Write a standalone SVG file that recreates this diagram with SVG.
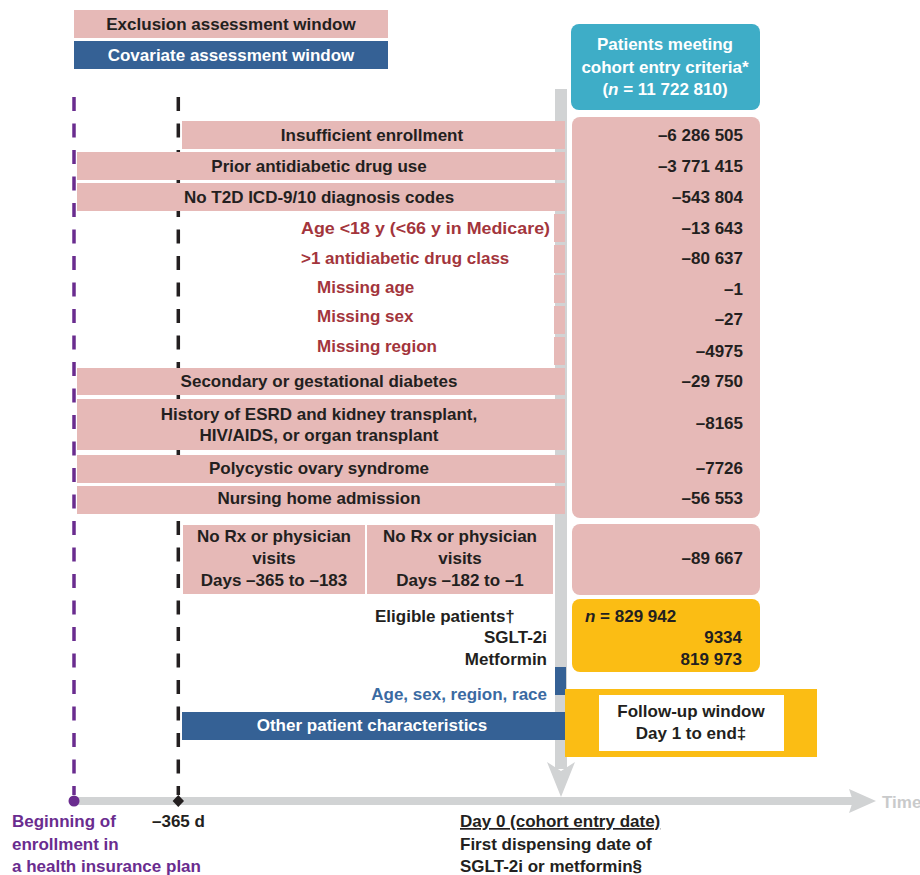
<svg xmlns="http://www.w3.org/2000/svg" width="920" height="875" viewBox="0 0 920 875">
<style>
text{font-family:"Liberation Sans",Arial,sans-serif;font-weight:bold;font-size:17px;fill:#231f20}
.c{text-anchor:middle}
.r{text-anchor:end}
.red{fill:#a3353c}
.w{fill:#ffffff}
.pur{fill:#6a2c8f}
.blt{fill:#3a6aa2}
.pink{fill:#e6b9b7}
.blue{fill:#356195}
.yel{fill:#fbbd14}
.gray{fill:#d1d3d4}
</style>
<rect width="920" height="875" fill="#ffffff"/>
<!-- legend -->
<g id="legend-exclusion"><rect class="pink" x="74" y="10" width="314" height="28"/><text class="c" x="231" y="30">Exclusion assessment window</text></g>
<g id="legend-covariate"><rect class="blue" x="74" y="41" width="314" height="28"/><text class="c w" x="231" y="61">Covariate assessment window</text></g>

<!-- connectors / timeline -->
<g id="connectors">
<rect class="gray" x="555" y="89" width="12" height="680"/>
<polygon class="gray" points="547,762 561,771 575,762 561,797"/>
<rect class="gray" x="74" y="797" width="780" height="8"/>
<polygon class="gray" points="849,789 876,801 849,813 853,801"/>
<line x1="74" y1="97" x2="74" y2="795" stroke="#6a2c8f" stroke-width="3.5" stroke-dasharray="14 12.5"/>
<line x1="178.3" y1="97" x2="178.3" y2="795" stroke="#231f20" stroke-width="3.5" stroke-dasharray="14 12.5"/>
<circle cx="74" cy="801" r="5.5" fill="#6a2c8f"/>
<polygon points="178.3,795 184,801 178.3,807 172.6,801" fill="#231f20"/>
<text x="882" y="808" style="fill:#c9cacb">Time</text>
</g>

<!-- cohort entry -->
<g id="cohort-entry"><rect x="571" y="24" width="189" height="86" rx="8" fill="#3eadc7"/>
<text class="c w" x="665" y="50">Patients meeting</text>
<text class="c w" x="665" y="73">cohort entry criteria*</text>
<text class="c w" x="665" y="95">(<tspan font-style="italic">n</tspan> = 11 722 810)</text></g>

<!-- exclusion counts -->
<g id="exclusion-counts"><rect class="pink" x="572" y="117" width="188" height="401" rx="8"/>
<text class="r" x="743" y="141">–6 286 505</text>
<text class="r" x="743" y="172">–3 771 415</text>
<text class="r" x="743" y="203">–543 804</text>
<text class="r" x="743" y="234">–13 643</text>
<text class="r" x="743" y="264">–80 637</text>
<text class="r" x="743" y="295">–1</text>
<text class="r" x="743" y="325">–27</text>
<text class="r" x="743" y="357">–4975</text>
<text class="r" x="743" y="387">–29 750</text>
<text class="r" x="743" y="429">–8165</text>
<text class="r" x="743" y="474">–7726</text>
<text class="r" x="743" y="504">–56 553</text></g>

<g id="visits-count"><rect class="pink" x="572" y="524" width="188" height="71" rx="8"/>
<text class="r" x="743" y="564">–89 667</text></g>

<!-- exclusion rows -->
<g id="insufficient-enrollment"><rect class="pink" x="182" y="121" width="383" height="28"/><text class="c" x="372" y="141">Insufficient enrollment</text></g>
<g id="prior-drug-use"><rect class="pink" x="77" y="152" width="488" height="28"/><text class="c" x="319" y="172">Prior antidiabetic drug use</text></g>
<g id="no-t2d-codes"><rect class="pink" x="77" y="183" width="488" height="28"/><text class="c" x="319" y="203">No T2D ICD-9/10 diagnosis codes</text></g>
<g id="age"><rect class="pink" x="554" y="214" width="11" height="28"/><text class="red" x="301" y="234" textLength="249" lengthAdjust="spacingAndGlyphs">Age &lt;18 y (&lt;66 y in Medicare)</text></g>
<g id="drug-class"><rect class="pink" x="554" y="245" width="11" height="28"/><text class="red" x="301" y="264">&gt;1 antidiabetic drug class</text></g>
<g id="missing-age"><rect class="pink" x="554" y="275" width="11" height="28"/><text class="red" x="317" y="293">Missing age</text></g>
<g id="missing-sex"><rect class="pink" x="554" y="306" width="11" height="28"/><text class="red" x="317" y="322">Missing sex</text></g>
<g id="missing-region"><rect class="pink" x="554" y="337" width="11" height="28"/><text class="red" x="317" y="352">Missing region</text></g>
<g id="secondary-diabetes"><rect class="pink" x="77" y="368" width="488" height="27"/><text class="c" x="319" y="387">Secondary or gestational diabetes</text></g>
<g id="esrd-history"><rect class="pink" x="77" y="399" width="488" height="51"/><text class="c" x="319" y="420">History of ESRD and kidney transplant,</text><text class="c" x="319" y="441">HIV/AIDS, or organ transplant</text></g>
<g id="pcos"><rect class="pink" x="77" y="455" width="488" height="28"/><text class="c" x="319" y="474">Polycystic ovary syndrome</text></g>
<g id="nursing-home"><rect class="pink" x="77" y="486" width="488" height="28"/><text class="c" x="319" y="504">Nursing home admission</text></g>
<g id="visits-early"><rect class="pink" x="183" y="525" width="182" height="69"/>
<text class="c" x="274" y="542">No Rx or physician</text><text class="c" x="274" y="564">visits</text><text class="c" x="274" y="586">Days –365 to –183</text></g>
<g id="visits-late"><rect class="pink" x="367" y="525" width="186" height="69"/>
<text class="c" x="460" y="542">No Rx or physician</text><text class="c" x="460" y="564">visits</text><text class="c" x="460" y="586">Days –182 to –1</text></g>

<!-- eligible -->
<g id="eligible-labels"><text x="375" y="622">Eligible patients†</text>
<text class="r" x="547" y="643">SGLT-2i</text>
<text class="r" x="547" y="665">Metformin</text></g>
<g id="eligible-counts"><rect class="yel" x="572" y="599" width="188" height="73" rx="8"/>
<text x="585" y="622"><tspan font-style="italic">n</tspan> = 829 942</text>
<text class="r" x="742" y="643">9334</text>
<text class="r" x="742" y="665">819 973</text></g>

<!-- covariates -->
<g id="demographics"><rect class="blue" x="555" y="667" width="11" height="28"/><text class="r blt" x="547" y="700">Age, sex, region, race</text></g>
<g id="other-characteristics"><rect class="blue" x="182" y="712" width="383" height="28"/><text class="c w" x="372" y="731">Other patient characteristics</text></g>
<g id="follow-up"><rect class="yel" x="565" y="689" width="252" height="68"/><rect x="599" y="695" width="185" height="56" fill="#ffffff"/>
<text class="c" x="691" y="717">Follow-up window</text><text class="c" x="691" y="739">Day 1 to end‡</text></g>

<!-- axis labels -->
<g id="label-enrollment"><text class="pur" x="12" y="827">Beginning of</text><text class="pur" x="12" y="850">enrollment in</text><text class="pur" x="12" y="872">a health insurance plan</text></g>
<g id="label-365"><text x="152" y="827">–365 d</text></g>
<g id="label-day0"><text x="460" y="827" text-decoration="underline">Day 0 (cohort entry date)</text><text x="460" y="850">First dispensing date of</text><text x="460" y="872">SGLT-2i or metformin§</text></g>
</svg>
